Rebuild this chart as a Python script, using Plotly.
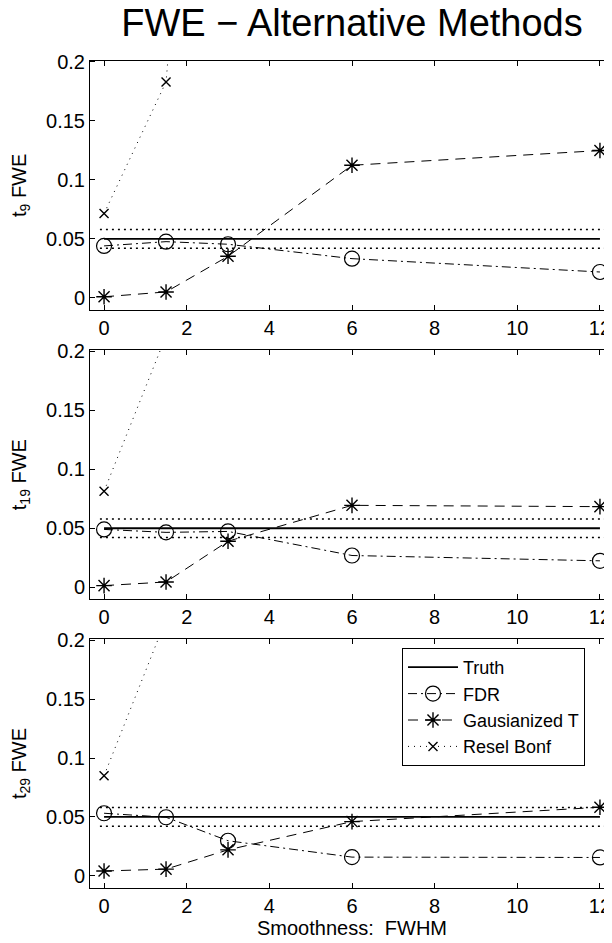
import plotly.graph_objects as go

fwhm = [0, 1.5, 3, 6, 12]
truth = 0.05
ci_low = 0.0421
ci_high = 0.0579

panel_labels = ["t<sub>9</sub> FWE", "t<sub>19</sub> FWE", "t<sub>29</sub> FWE"]

fdr = [
    [0.0441, 0.0477, 0.0455, 0.0333, 0.0220],
    [0.0490, 0.0465, 0.0473, 0.0269, 0.0224],
    [0.0531, 0.0497, 0.0297, 0.0158, 0.0155],
]
gauss_t = [
    [0.0010, 0.0051, 0.0353, 0.1124, 0.1249],
    [0.0014, 0.0045, 0.0390, 0.0694, 0.0683],
    [0.0040, 0.0056, 0.0220, 0.0460, 0.0582],
]
resel_bonf = [
    [0.0715, 0.1830, 0.80, 1.0, 1.0],
    [0.0813, 0.2130, 0.60, 1.0, 1.0],
    [0.0850, 0.2180, 0.60, 1.0, 1.0],
]

y_ticks = [0, 0.05, 0.1, 0.15, 0.2]
y_tick_text = ["0", "0.05", "0.1", "0.15", "0.2"]
x_ticks = [0, 2, 4, 6, 8, 10, 12]
x_tick_text = ["0", "2", "4", "6", "8", "10", "12"]

# page body has an 8px margin; figure coords = page coords - 8
OFF = 8
W, H = 606, 935
panel_px = [(60.7 - OFF, 310.0 - OFF), (350.0 - OFF, 599.3 - OFF), (639.3 - OFF, 887.7 - OFF)]
x_left_px = 90 - OFF

FONT = "Liberation Sans, Arial, sans-serif"
TICK_SIZE = 20
fig = go.Figure()

for i in range(3):
    xa = "x" if i == 0 else f"x{i+1}"
    ya = "y" if i == 0 else f"y{i+1}"
    leg = (i == 2)
    for v in (ci_low, ci_high):
        fig.add_trace(go.Scatter(x=[-0.1, 12.6], y=[v, v], mode="lines",
                                 line=dict(color="black", width=1.5, dash="2px,4px"),
                                 showlegend=False, hoverinfo="skip", xaxis=xa, yaxis=ya))
    fig.add_trace(go.Scatter(x=[fwhm[0], fwhm[-1]], y=[truth, truth], mode="lines",
                             name="Truth", line=dict(color="black", width=1.8),
                             showlegend=leg, xaxis=xa, yaxis=ya))
    fig.add_trace(go.Scatter(x=fwhm, y=fdr[i], mode="lines+markers", name="FDR",
                             line=dict(color="black", width=1, dash="9px,4px,2px,4px"),
                             marker=dict(symbol="circle-open", size=15, color="black",
                                         line=dict(width=1.2, color="black")),
                             showlegend=leg, xaxis=xa, yaxis=ya))
    fig.add_trace(go.Scatter(x=fwhm, y=gauss_t[i], mode="lines+markers", name="Gausianized T",
                             line=dict(color="black", width=1, dash="10px,7px"),
                             marker=dict(symbol="asterisk-open", size=13, color="black",
                                         line=dict(width=1.4, color="black")),
                             showlegend=leg, xaxis=xa, yaxis=ya))
    fig.add_trace(go.Scatter(x=fwhm, y=resel_bonf[i], mode="lines+markers", name="Resel Bonf",
                             line=dict(color="black", width=1, dash="1px,5px"),
                             marker=dict(symbol="x-thin-open", size=9, color="black",
                                         line=dict(width=1.4, color="black")),
                             showlegend=leg, xaxis=xa, yaxis=ya))

    top, bot = panel_px[i]
    dom_y = [1 - bot / H, 1 - top / H]
    axis_common = dict(showline=True, linecolor="black", linewidth=1, ticks="inside",
                       ticklen=5, tickcolor="black", tickwidth=1, showgrid=False,
                       zeroline=False, automargin=False,
                       tickfont=dict(family=FONT, size=TICK_SIZE, color="black"))
    xkey = "xaxis" if i == 0 else f"xaxis{i+1}"
    ykey = "yaxis" if i == 0 else f"yaxis{i+1}"
    xd = dict(axis_common, domain=[x_left_px / W, 1], range=[-0.34, 12.34],
              tickvals=x_ticks, ticktext=x_tick_text, mirror="allticks", anchor=ya)
    if i == 2:
        xd["title"] = dict(text="Smoothness:  FWHM",
                           font=dict(family=FONT, size=TICK_SIZE, color="black"),
                           standoff=0)
    yd = dict(axis_common, domain=dom_y, range=[-0.0102, 0.201], tickvals=y_ticks,
              ticktext=y_tick_text, mirror="allticks", anchor=xa,
              title=dict(text=panel_labels[i],
                         font=dict(family=FONT, size=TICK_SIZE, color="black"),
                         standoff=17))
    fig.update_layout(**{xkey: xd, ykey: yd})

fig.update_layout(
    width=W, height=H,
    margin=dict(l=0, r=0, t=0, b=0, autoexpand=False),
    paper_bgcolor="white", plot_bgcolor="white",
    font=dict(family=FONT, color="black"),
    title=dict(text="FWE \u2212 Alternative Methods", x=(352 - OFF) / W, xanchor="center",
               y=1 - (23 - OFF) / H, yanchor="middle", automargin=False,
               font=dict(family=FONT, size=38, color="black")),
    legend=dict(x=(402 - OFF) / W, y=1 - (648 - OFF) / H, xanchor="left", yanchor="top",
                bgcolor="white", bordercolor="black", borderwidth=1,
                font=dict(family=FONT, size=18, color="black"),
                tracegroupgap=0, itemwidth=50),
)

fig.write_html("out.html")
